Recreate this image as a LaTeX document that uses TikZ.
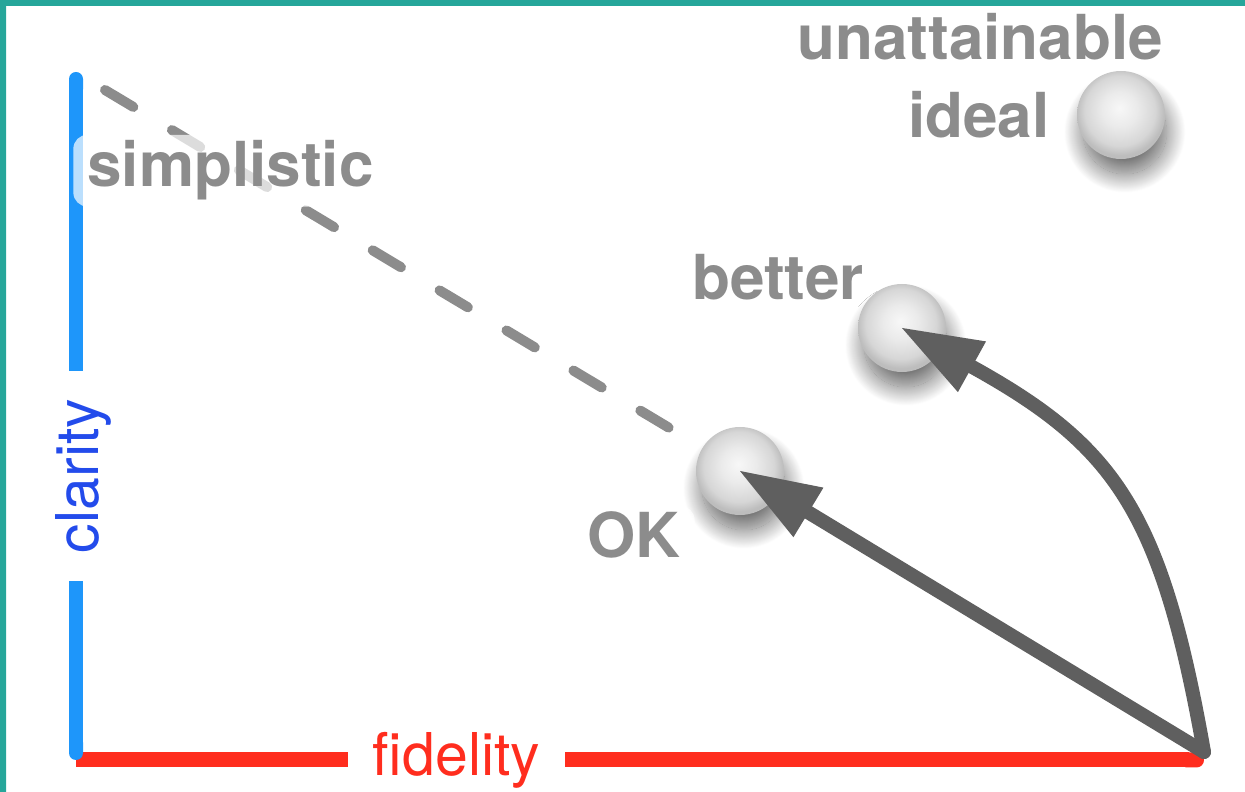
\documentclass[tikz,border=0pt]{standalone}
\usepackage{fontspec}
\setmainfont{TeX Gyre Heros}
\usetikzlibrary{arrows.meta,shadows.blur}

\definecolor{frameteal}{RGB}{38,166,154}
\definecolor{axisblue}{RGB}{30,150,250}
\definecolor{clarityblue}{RGB}{35,75,235}
\definecolor{axisred}{RGB}{255,45,30}
\definecolor{labelgray}{RGB}{140,140,140}
\definecolor{arrowgray}{RGB}{95,95,95}

\pgfdeclareradialshading{pearl}{\pgfpoint{-1bp}{4bp}}{color(0bp)=(white!97!black); color(10bp)=(white!92!black); color(20bp)=(white!84!black); color(25bp)=(white!74!black); color(50bp)=(white!74!black)}

\tikzset{
    tag/.style={text=labelgray, font=\bfseries\fontsize{62}{70}\selectfont, anchor=base,
        fill=white, fill opacity=0.7, text opacity=1, rounded corners=14pt, inner xsep=14pt, inner ysep=6pt},
    axistext/.style={font=\fontsize{59}{70}\selectfont, anchor=base, inner ysep=0pt},
    pearlball/.style={circle, minimum size=88pt, inner sep=0pt, shade, shading=pearl,
        blur shadow={shadow xshift=4pt, shadow yshift=-18pt, shadow scale=0.95, shadow blur radius=20pt,
            shadow blur steps=40, shadow opacity=60}},
    push/.style={arrowgray, line width=14pt, line cap=round, -{Triangle[length=80pt, width=58pt, line width=0pt]}}
}

\begin{document}
\begin{tikzpicture}[x=1pt,y=1pt]
            \useasboundingbox (0,0) rectangle (1245,792);
            \fill[frameteal] (0,0) rectangle (6,792) (0,786) rectangle (1245,792);
            % axes
            \coordinate (top) at (76,720);
            \coordinate (corner) at (76,32);
            \coordinate (far) at (1204,40);
            \node[axistext, text=clarityblue, rotate=90, inner xsep=28pt] (clarity) at (98,316) {clarity};
            \node[axistext, text=axisred, inner xsep=25pt] (fidelity) at (456.5,16) {fidelity};
            \draw[axisred, line width=15pt] (corner) -- (corner -| fidelity.west);
            \draw[axisred, line width=15pt, -{Round Cap[]}] (fidelity.east |- corner) -- (far |- corner);
            \draw[axisblue, line width=14pt, {Round Cap[]}-] (top) -- (top |- clarity.east);
            \draw[axisblue, line width=14pt, -{Round Cap[]}] (corner |- clarity.west) -- (corner);
            % simplistic trend
            \coordinate (apex) at (105,702);
            \coordinate (trendend) at (676,360);
            \draw[labelgray, line width=10pt, line cap=round, dash pattern=on 33pt off 45pt] (apex) -- (trendend);
            \node[tag] (simplistic) at (230.5,605) {simplistic};
            \node[tag] (unattainable) at (980,732) {unattainable};
            \node[tag] (ideallabel) at (979,654) {ideal};
            \node[tag] (betterlabel) at (778,492) {better};
            \foreach \n/\x/\y in {ideal/1121/677, better/902/464, ok/740/321}
                {\node[pearlball] (\n) at (\x,\y) {};}
            \node[tag] (oklabel) at (634,234) {OK};
            % moves
            \draw[push] (far) -- (ok.center);
            \draw[push] (far) to[out=100, in=-29, looseness=1.2] (better.center);
        \end{tikzpicture}
\end{document}
